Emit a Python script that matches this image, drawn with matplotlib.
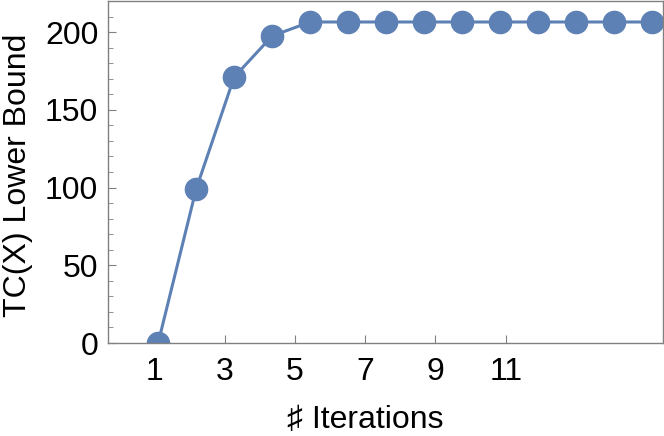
import matplotlib.pyplot as plt
from matplotlib.ticker import MultipleLocator

iterations = [1, 2, 3, 4, 5, 6, 7, 8, 9, 10, 11, 12, 13, 14]
lower_bound = [0, 99, 171, 197.5, 206.5, 206.5, 206.5, 206.5, 206.5, 206.5, 206.5, 206.5, 206.5, 206.5]
# tick labels sit slightly off the points in the original
xtick_pos = [0.9, 2.75, 4.6, 6.45, 8.3, 10.15]
xtick_labels = ["1", "3", "5", "7", "9", "11"]

plt.rcParams['font.family'] = ['Liberation Sans', 'DejaVu Sans']
blue = "#5E81B5"
gray = "#808080"

fig = plt.figure(figsize=(6.64, 4.36), dpi=100)
ax = fig.add_axes([108 / 664, 93 / 436, 555 / 664, 342 / 436])

ax.plot(iterations, lower_bound, color=blue, lw=2.2, marker="o", markersize=16)

ax.set_xlim(-0.32, 14.29)
ax.set_ylim(0, 220)
ax.set_xticks(xtick_pos)
ax.set_xticklabels(xtick_labels)
ax.yaxis.set_major_locator(MultipleLocator(50))
ax.yaxis.set_minor_locator(MultipleLocator(10))

ax.tick_params(axis="both", which="major", direction="in", length=6, width=0.8,
               color=gray, labelsize=23)
ax.tick_params(axis="x", which="major", pad=10)
ax.tick_params(axis="y", which="major", pad=7)
ax.tick_params(axis="y", which="minor", direction="in", length=3.5, width=0.6, color=gray)
for s in ax.spines.values():
    s.set_color(gray)
    s.set_linewidth(1.0)

ax.set_xlabel("\u266f Iterations", fontsize=23)
ax.set_ylabel("TC(X) Lower Bound", fontsize=23)
ax.xaxis.set_label_coords(0.463, -0.18)
ax.yaxis.set_label_coords(-0.135, 0.49)

fig.savefig("out.png", dpi=100)
